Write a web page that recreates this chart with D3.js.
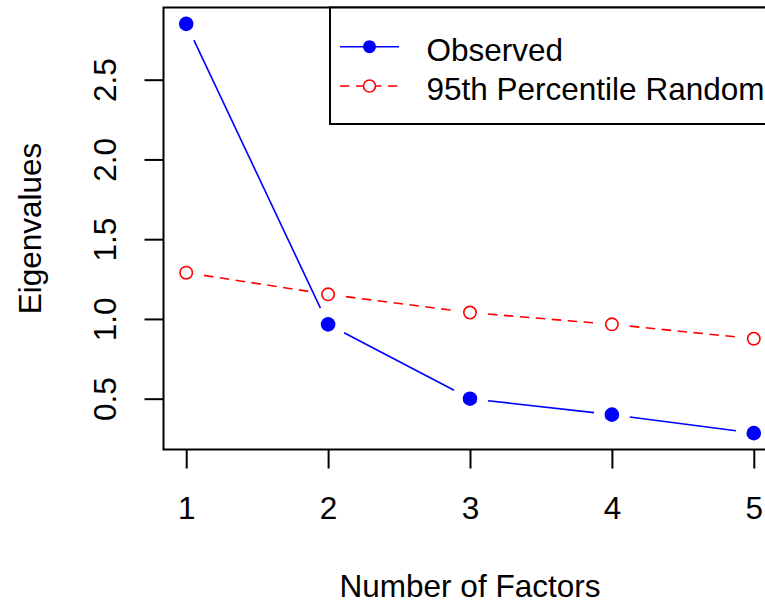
<!DOCTYPE html>
<html>
<head>
<meta charset="utf-8">
<script src="https://cdn.jsdelivr.net/npm/d3@7"></script>
<style>
  body { margin: 0; background: #fff; }
  svg { display: block; }
</style>
</head>
<body>
<div id="graph"></div>
<script>
// values
var factors = [1, 2, 3, 4, 5];
var observed = [2.85, 0.966, 0.50, 0.40, 0.284];
var random95 = [1.29, 1.154, 1.04, 0.966, 0.876];
var xTicks = [1, 2, 3, 4, 5];
var yTicks = [0.5, 1.0, 1.5, 2.0, 2.5];
var seriesNames = ["Observed", "95th Percentile Random"];

var W = 765, H = 607;
var font = "'Liberation Sans', Arial, sans-serif";
var fs = 31.5;

var svg = d3.select('#graph').append('svg')
    .attr('width', W)
    .attr('height', H);

// R style 4% axis expansion
var xExt = d3.extent(factors), yExt = d3.extent(observed.concat(random95));
var xPad = (xExt[1] - xExt[0]) * 0.04, yPad = (yExt[1] - yExt[0]) * 0.04;

var x = d3.scaleLinear()
    .domain([xExt[0] - xPad, xExt[1] + xPad])
    .range([163.5, 776.5]);
var y = d3.scaleLinear()
    .domain([yExt[0] - yPad, yExt[1] + yPad])
    .range([449.5, 7.5]);

// x axis
var xAxis = svg.append('g')
    .attr('transform', 'translate(0,' + y.range()[0] + ')')
    .call(d3.axisBottom(x).tickValues(xTicks).tickSize(19).tickFormat(d3.format('d')));
xAxis.select('.domain').remove();
xAxis.selectAll('line').attr('stroke', '#000').attr('stroke-width', 2);
xAxis.selectAll('text')
    .attr('y', 69.5).attr('dy', null)
    .style('font-family', font).style('font-size', fs + 'px').attr('fill', '#000');

// y axis, labels parallel to the axis
var yAxis = svg.append('g')
    .attr('transform', 'translate(' + x.range()[0] + ',0)')
    .call(d3.axisLeft(y).tickValues(yTicks).tickSize(19).tickFormat(d3.format('.1f')));
yAxis.select('.domain').remove();
yAxis.selectAll('line').attr('stroke', '#000').attr('stroke-width', 2);
yAxis.selectAll('text')
    .attr('x', null).attr('dy', null)
    .attr('transform', 'translate(-47.5,0) rotate(-90)')
    .attr('text-anchor', 'middle')
    .style('font-family', font).style('font-size', fs + 'px').attr('fill', '#000');

// axis titles
svg.append('text')
    .attr('x', (x.range()[0] + x.range()[1]) / 2)
    .attr('y', 597)
    .attr('text-anchor', 'middle')
    .style('font-family', font).style('font-size', fs + 'px')
    .text('Number of Factors');

svg.append('text')
    .attr('transform', 'translate(40.5,' + (y.range()[0] + y.range()[1]) / 2 + ') rotate(-90)')
    .attr('text-anchor', 'middle')
    .style('font-family', font).style('font-size', fs + 'px')
    .text('Eigenvalues');

// type = "b": line pieces stop short of the points
var gap = 18;
function segments(vals) {
    var out = [];
    for (var i = 0; i < vals.length - 1; i++) {
        var x0 = x(factors[i]), y0 = y(vals[i]), x1 = x(factors[i + 1]), y1 = y(vals[i + 1]);
        var len = Math.sqrt((x1 - x0) * (x1 - x0) + (y1 - y0) * (y1 - y0));
        var ux = (x1 - x0) / len, uy = (y1 - y0) / len;
        out.push({x1: x0 + ux * gap, y1: y0 + uy * gap, x2: x1 - ux * gap, y2: y1 - uy * gap});
    }
    return out;
}

var plot = svg.append('g');

plot.selectAll('.seg-obs')
    .data(segments(observed))
    .enter().append('line')
    .attr('x1', function(d) { return d.x1; })
    .attr('y1', function(d) { return d.y1; })
    .attr('x2', function(d) { return d.x2; })
    .attr('y2', function(d) { return d.y2; })
    .attr('stroke', '#0000ff')
    .attr('stroke-width', 1.6);

plot.selectAll('.seg-rand')
    .data(segments(random95))
    .enter().append('line')
    .attr('x1', function(d) { return d.x1; })
    .attr('y1', function(d) { return d.y1; })
    .attr('x2', function(d) { return d.x2; })
    .attr('y2', function(d) { return d.y2; })
    .attr('stroke', '#ff0000')
    .attr('stroke-width', 1.6)
    .attr('stroke-dasharray', '9.5,6.5');

plot.selectAll('.pt-obs')
    .data(observed)
    .enter().append('circle')
    .attr('cx', function(d, i) { return x(factors[i]); })
    .attr('cy', function(d) { return y(d); })
    .attr('r', 7.3)
    .attr('fill', '#0000ff');

plot.selectAll('.pt-rand')
    .data(random95)
    .enter().append('circle')
    .attr('cx', function(d, i) { return x(factors[i]); })
    .attr('cy', function(d) { return y(d); })
    .attr('r', 6.2)
    .attr('fill', 'none')
    .attr('stroke', '#ff0000')
    .attr('stroke-width', 1.6);

// plot box
svg.append('rect')
    .attr('x', x.range()[0])
    .attr('y', y.range()[1])
    .attr('width', x.range()[1] - x.range()[0])
    .attr('height', y.range()[0] - y.range()[1])
    .attr('fill', 'none')
    .attr('stroke', '#000')
    .attr('stroke-width', 2);

// legend (topright)
var leg = svg.append('g');
leg.append('rect')
    .attr('x', 330)
    .attr('y', y.range()[1])
    .attr('width', x.range()[1] - 330)
    .attr('height', 124 - y.range()[1])
    .attr('fill', '#fff')
    .attr('stroke', '#000')
    .attr('stroke-width', 2);

var legRows = [
    {name: seriesNames[0], color: '#0000ff', dash: null, filled: true, cy: 46.7, base: 61},
    {name: seriesNames[1], color: '#ff0000', dash: '9.5,6.5', filled: false, cy: 86, base: 99.5}
];

var rows = leg.selectAll('.row').data(legRows).enter().append('g');
rows.append('line')
    .attr('x1', 340).attr('x2', 399)
    .attr('y1', function(d) { return d.cy; })
    .attr('y2', function(d) { return d.cy; })
    .attr('stroke', function(d) { return d.color; })
    .attr('stroke-width', 1.6)
    .attr('stroke-dasharray', function(d) { return d.dash; });
rows.append('circle')
    .attr('cx', 369.5)
    .attr('cy', function(d) { return d.cy; })
    .attr('r', function(d) { return d.filled ? 6.5 : 6; })
    .attr('fill', function(d) { return d.filled ? d.color : '#fff'; })
    .attr('stroke', function(d) { return d.filled ? 'none' : d.color; })
    .attr('stroke-width', 1.6);
rows.append('text')
    .attr('x', 426.5)
    .attr('y', function(d) { return d.base; })
    .style('font-family', font).style('font-size', fs + 'px')
    .text(function(d) { return d.name; });
</script>
</body>
</html>
